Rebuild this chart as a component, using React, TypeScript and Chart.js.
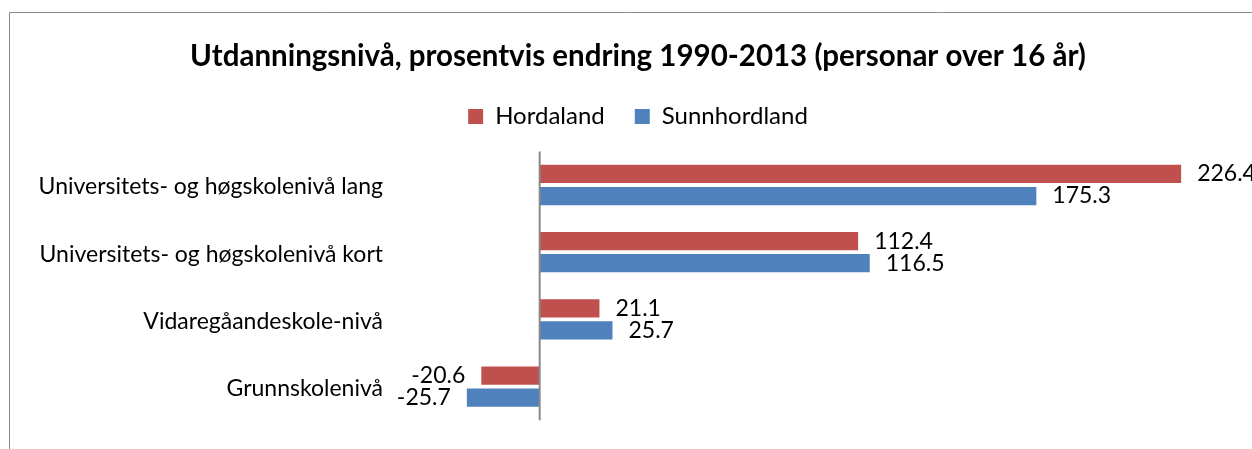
import React, { useEffect, useRef } from "react";
import { Chart, registerables } from "chart.js";

Chart.register(...registerables);

const categories = [
  "Universitets- og høgskolenivå lang",
  "Universitets- og høgskolenivå kort",
  "Vidaregåandeskole-nivå",
  "Grunnskolenivå",
];
const seriesNames = ["Hordaland", "Sunnhordland"];
const hordaland = [226.4, 112.4, 21.1, -20.6];
const sunnhordland = [175.3, 116.5, 25.7, -25.7];
const xMin = -50;
const xMax = 250;
const titleText = "Utdanningsnivå, prosentvis endring 1990-2013 (personar over 16 år)";

const FONT = "Lato";

const framePlugin = {
  id: "frame",
  beforeDraw(chart: any) {
    const ctx = chart.ctx;
    ctx.save();
    ctx.strokeStyle = "#8a8a8a";
    ctx.lineWidth = 1;
    ctx.beginPath();
    ctx.moveTo(9.5, chart.height);
    ctx.lineTo(9.5, 12.5);
    ctx.lineTo(chart.width, 12.5);
    ctx.stroke();
    ctx.restore();
  },
};

const zeroLinePlugin = {
  id: "zeroLine",
  afterDatasetsDraw(chart: any) {
    const ctx = chart.ctx;
    const x = chart.scales.x.getPixelForValue(0);
    const { top, bottom } = chart.chartArea;
    ctx.save();
    ctx.strokeStyle = "#888888";
    ctx.lineWidth = 2;
    ctx.beginPath();
    ctx.moveTo(x, top);
    ctx.lineTo(x, bottom);
    ctx.stroke();
    ctx.restore();
  },
};

const valueLabelPlugin = {
  id: "valueLabels",
  afterDatasetsDraw(chart: any) {
    const ctx = chart.ctx;
    ctx.save();
    ctx.font = `23px ${FONT}`;
    ctx.fillStyle = "#000";
    ctx.textBaseline = "middle";
    chart.data.datasets.forEach((ds: any, di: number) => {
      const meta = chart.getDatasetMeta(di);
      meta.data.forEach((bar: any, i: number) => {
        const v = ds.data[i] as number;
        const txt = v.toFixed(1);
        if (v >= 0) {
          ctx.textAlign = "left";
          ctx.fillText(txt, bar.x + 16, bar.y);
        } else {
          ctx.textAlign = "right";
          ctx.fillText(txt, bar.x - 16, bar.y);
        }
      });
    });
    ctx.restore();
  },
};

export default function App() {
  const ref = useRef<HTMLCanvasElement | null>(null);

  useEffect(() => {
    if (!ref.current) return;
    const chart = new Chart(ref.current, {
      type: "bar",
      data: {
        labels: categories,
        datasets: [
          {
            label: seriesNames[0],
            data: hordaland,
            backgroundColor: "#C0504D",
            categoryPercentage: 0.657,
            barPercentage: 0.826,
          },
          {
            label: seriesNames[1],
            data: sunnhordland,
            backgroundColor: "#4F81BD",
            categoryPercentage: 0.657,
            barPercentage: 0.826,
          },
        ],
      },
      options: {
        indexAxis: "y",
        responsive: true,
        maintainAspectRatio: false,
        animation: false,
        events: [],
        layout: { padding: { left: 28, right: 4, top: 0, bottom: 18 } },
        scales: {
          x: {
            type: "linear",
            position: "top",
            min: xMin,
            max: xMax,
            grid: { display: false, drawTicks: false },
            border: { display: false },
            ticks: { display: false },
            afterFit(scale: any) {
              scale.height = 13;
            },
          },
          y: {
            grid: { display: false, drawTicks: false },
            border: { display: false },
            ticks: {
              color: "#000",
              padding: 15,
              labelOffset: 2,
              font: { family: FONT, size: 23 },
            },
            afterFit(scale: any) {
              scale.width = 370;
            },
          },
        },
        plugins: {
          title: {
            display: true,
            text: titleText,
            color: "#000",
            font: { family: FONT, size: 29.5, weight: "bold" },
            padding: { top: 39, bottom: 0 },
          },
          legend: {
            display: true,
            position: "top",
            labels: {
              boxWidth: 15,
              boxHeight: 15,
              padding: 30,
              color: "#000",
              font: { family: FONT, size: 24 },
            },
          },
          tooltip: { enabled: false },
        },
      },
      plugins: [framePlugin, zeroLinePlugin, valueLabelPlugin],
    } as any);
    return () => chart.destroy();
  }, []);

  return (
    <div style={{ position: "absolute", left: 0, top: 0, width: 1252, height: 449, background: "#fff" }}>
      <canvas ref={ref} />
    </div>
  );
}
